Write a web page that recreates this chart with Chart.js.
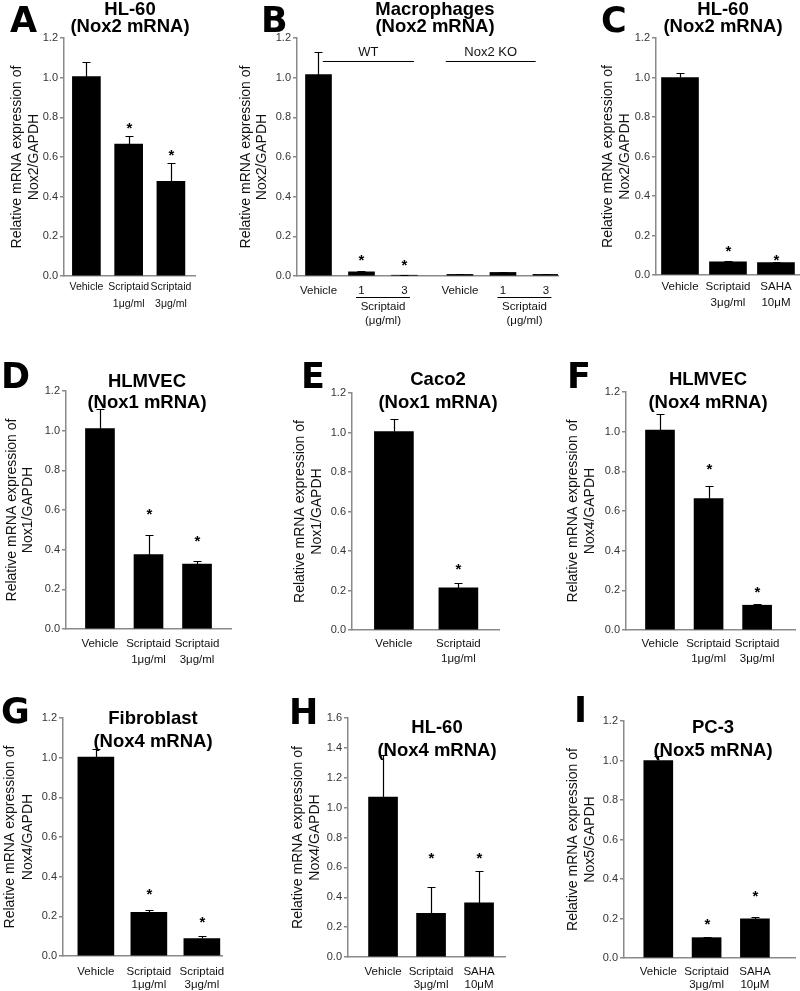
<!DOCTYPE html>
<html>
<head>
<meta charset="utf-8">
<script src="https://cdn.jsdelivr.net/npm/chart.js@4.4.1/dist/chart.umd.min.js"></script>
<style>
    html, body { margin: 0; padding: 0; background: #fff; }
    #fig { position: relative; width: 800px; height: 991px; overflow: hidden; }
    #fig canvas { position: absolute; left: 0; top: 0; }
</style>
</head>
<body>
<div id="fig"></div>
<script>
// region: data
const yLine1 = 'Relative mRNA expression of';

const catsA = ['Vehicle', ['Scriptaid', '1μg/ml'], ['Scriptaid', '3μg/ml']];
const meanA = [1.005, 0.665, 0.477];
const errA = [0.075, 0.04, 0.093];
const sigA = [null, 0.76, 0.625];

const catsB = ['Vehicle', '1', '3', 'Vehicle', '1', '3'];
const meanB = [1.015, 0.021, 0.004, 0.008, 0.018, 0.008];
const errB = [0.115, 0.003, 0.001, 0.001, 0.001, 0.001];
const sigB = [null, 0.096, 0.07, null, null, null];
const groupsB = ['WT', 'Nox2 KO'];
const subB = ['Scriptaid', '(μg/ml)'];

const catsC = ['Vehicle', ['Scriptaid', '3μg/ml'], ['SAHA', '10μM']];
const meanC = [1.0, 0.067, 0.063];
const errC = [0.025, 0.002, 0.003];
const sigC = [null, 0.137, 0.093];

const catsD = ['Vehicle', ['Scriptaid', '1μg/ml'], ['Scriptaid', '3μg/ml']];
const meanD = [1.01, 0.375, 0.327];
const errD = [0.1, 0.097, 0.018];
const sigD = [null, 0.595, 0.459];

const catsE = ['Vehicle', ['Scriptaid', '1μg/ml']];
const meanE = [1.005, 0.213];
const errE = [0.063, 0.024];
const sigE = [null, 0.324];

const catsF = ['Vehicle', ['Scriptaid', '1μg/ml'], ['Scriptaid', '3μg/ml']];
const meanF = [1.008, 0.663, 0.125];
const errF = [0.082, 0.064, 0.006];
const sigF = [null, 0.827, 0.207];

const catsG = ['Vehicle', ['Scriptaid', '1μg/ml'], ['Scriptaid', '3μg/ml']];
const meanG = [1.003, 0.22, 0.088];
const errG = [0.042, 0.013, 0.015];
const sigG = [null, 0.328, 0.187];

const catsH = ['Vehicle', ['Scriptaid', '3μg/ml'], ['SAHA', '10μM']];
const meanH = [1.07, 0.292, 0.362];
const errH = [0.285, 0.178, 0.215];
const sigH = [null, 0.683, 0.683];

const catsI = ['Vehicle', ['Scriptaid', '3μg/ml'], ['SAHA', '10μM']];
const meanI = [1.0, 0.103, 0.198];
const errI = [0.025, 0.005, 0.012];
const sigI = [null, 0.187, 0.329];
// endregion

const family = '"Liberation Sans", Arial, sans-serif';
const axisColor = '#8a8a8a';

const panels = [
    {id: 'A', cats: catsA, mean: meanA, err: errA, sig: sigA, title: ['HL-60', '(Nox2 mRNA)'], ylab: [yLine1, 'Nox2/GAPDH'],
        yMax: 1.2, box: {x0: 64, x1: 195, top: 38, bottom: 276}, min: -0.53, max: 2.57, bw: 28,
        letter: [10, 32], titleX: 130, titleY: [15, 32], ylabX: [47, 30], pad: 2.5, lh: 17, fs: 10.5},
    {id: 'B', cats: catsB, mean: meanB, err: errB, sig: sigB, title: ['Macrophages', '(Nox2 mRNA)'], ylab: [yLine1, 'Nox2/GAPDH'],
        yMax: 1.2, box: {x0: 297, x1: 558, top: 38, bottom: 276}, min: -0.5, max: 5.57, bw: 26, gapAfter: 2, gap: 0.29,
        letter: [261, 32], titleX: 435, titleY: [15, 32], ylabX: [51, 35], pad: 6.5, lh: 17, fs: 11.5},
    {id: 'C', cats: catsC, mean: meanC, err: errC, sig: sigC, title: ['HL-60', '(Nox2 mRNA)'], ylab: [yLine1, 'Nox2/GAPDH'],
        yMax: 1.2, box: {x0: 656, x1: 799, top: 38, bottom: 275}, min: -0.5, max: 2.48, bw: 37,
        letter: [601, 32], titleX: 723, titleY: [15, 32], ylabX: [48, 31], pad: 4, lh: 16, fs: 11.5},
    {id: 'D', cats: catsD, mean: meanD, err: errD, sig: sigD, title: ['HLMVEC', '(Nox1 mRNA)'], ylab: [yLine1, 'Nox1/GAPDH'],
        yMax: 1.2, box: {x0: 66, x1: 231, top: 391, bottom: 629}, min: -0.7, max: 2.7, bw: 29,
        letter: [1, 388], titleX: 147, titleY: [387, 408], ylabX: [54, 38], pad: 7, lh: 16, fs: 11.5},
    {id: 'E', cats: catsE, mean: meanE, err: errE, sig: sigE, title: ['Caco2', '(Nox1 mRNA)'], ylab: [yLine1, 'Nox1/GAPDH'],
        yMax: 1.2, box: {x0: 352, x1: 499, top: 393, bottom: 630}, min: -0.65, max: 1.63, bw: 39,
        letter: [301, 388], titleX: 438, titleY: [385, 408], ylabX: [52, 35], pad: 6.5, lh: 15, fs: 11.5},
    {id: 'F', cats: catsF, mean: meanF, err: errF, sig: sigF, title: ['HLMVEC', '(Nox4 mRNA)'], ylab: [yLine1, 'Nox4/GAPDH'],
        yMax: 1.2, box: {x0: 626, x1: 795, top: 392, bottom: 630}, min: -0.7, max: 2.78, bw: 29,
        letter: [567, 388], titleX: 708, titleY: [385, 408], ylabX: [53, 36], pad: 6.5, lh: 15, fs: 11.5},
    {id: 'G', cats: catsG, mean: meanG, err: errG, sig: sigG, title: ['Fibroblast', '(Nox4 mRNA)'], ylab: [yLine1, 'Nox4/GAPDH'],
        yMax: 1.2, box: {x0: 63, x1: 222, top: 718, bottom: 956}, min: -0.62, max: 2.38, bw: 36,
        letter: [1, 723], titleX: 153, titleY: [724, 747], ylabX: [53, 35], pad: 9, lh: 13.5, fs: 11.5},
    {id: 'H', cats: catsH, mean: meanH, err: errH, sig: sigH, title: ['HL-60', '(Nox4 mRNA)'], ylab: [yLine1, 'Nox4/GAPDH'],
        yMax: 1.6, box: {x0: 348, x1: 505, top: 718, bottom: 957}, min: -0.73, max: 2.54, bw: 29,
        letter: [289, 724], titleX: 437, titleY: [733, 756], ylabX: [50, 33], pad: 8, lh: 13.5, fs: 11.5},
    {id: 'I', cats: catsI, mean: meanI, err: errI, sig: sigI, title: ['PC-3', '(Nox5 mRNA)'], ylab: [yLine1, 'Nox5/GAPDH'],
        yMax: 1.2, box: {x0: 624, x1: 795, top: 721, bottom: 958}, min: -0.71, max: 2.83, bw: 29,
        letter: [574, 722], titleX: 713, titleY: [733, 756], ylabX: [51, 34], pad: 7, lh: 13.5, fs: 11.5}
];

function panelPlugin(p) {
    return {
        id: 'panel' + p.id,
        afterDatasetsDraw(chart) {
            const ctx = chart.ctx;
            const xs = chart.scales.x;
            const ys = chart.scales.y;
            ctx.save();
            ctx.strokeStyle = '#000';
            ctx.fillStyle = '#000';
            ctx.lineWidth = 1.2;
            ctx.font = 'bold 15px ' + family;
            ctx.textAlign = 'center';
            ctx.textBaseline = 'alphabetic';
            p.mean.forEach(function (m, i) {
                const px = Math.round(xs.getPixelForValue(p.pos[i])) + 0.5;
                const yb = ys.getPixelForValue(m);
                const yt = Math.round(ys.getPixelForValue(m + p.err[i])) + 0.5;
                ctx.beginPath();
                ctx.moveTo(px, yb);
                ctx.lineTo(px, yt);
                ctx.moveTo(px - 4, yt);
                ctx.lineTo(px + 4, yt);
                ctx.stroke();
                if (p.sig[i] !== null) {
                    ctx.fillText('*', px, ys.getPixelForValue(p.sig[i]) + 8);
                }
            });
            ctx.restore();
        },
        afterDraw(chart) {
            const ctx = chart.ctx;
            const area = chart.chartArea;
            const xs = chart.scales.x;
            const ys = chart.scales.y;
            ctx.save();
            ctx.fillStyle = '#000';

            // panel letter
            ctx.font = 'bold 35px "DejaVu Sans", sans-serif';
            ctx.textAlign = 'left';
            ctx.textBaseline = 'alphabetic';
            ctx.fillText(p.id, p.letter[0], p.letter[1]);

            // title
            ctx.font = 'bold 18.5px ' + family;
            ctx.textAlign = 'center';
            p.title.forEach(function (t, i) {
                ctx.fillText(t, p.titleX, p.titleY[i]);
            });

            // y axis label
            const midY = (area.top + area.bottom) / 2;
            ctx.font = '14px ' + family;
            ctx.fillStyle = '#111';
            ctx.textBaseline = 'middle';
            p.ylab.forEach(function (t, i) {
                ctx.save();
                ctx.translate(area.left - p.ylabX[i], midY);
                ctx.rotate(-Math.PI / 2);
                ctx.fillText(t, 0, 0);
                ctx.restore();
            });

            // macrophage groups
            if (p.id === 'B') {
                ctx.strokeStyle = '#000';
                ctx.lineWidth = 1;
                const brackets = [[0.1, 2.22], [2.96, 5.05]];
                const yl = Math.round(ys.getPixelForValue(1.084)) + 0.5;
                ctx.font = '13px ' + family;
                brackets.forEach(function (br, g) {
                    const a = xs.getPixelForValue(br[0]);
                    const b = xs.getPixelForValue(br[1]);
                    ctx.beginPath();
                    ctx.moveTo(a, yl);
                    ctx.lineTo(b, yl);
                    ctx.stroke();
                    ctx.fillText(groupsB[g], (a + b) / 2, yl - 9);
                });
                ctx.font = '11.5px ' + family;
                [[1, 2], [4, 5]].forEach(function (pair) {
                    const mid = (xs.getPixelForValue(p.pos[pair[0]]) + xs.getPixelForValue(p.pos[pair[1]])) / 2;
                    const yu = Math.round(area.bottom + 21) + 0.5;
                    ctx.beginPath();
                    ctx.moveTo(mid - 27, yu);
                    ctx.lineTo(mid + 27, yu);
                    ctx.stroke();
                    ctx.fillText(subB[0], mid, area.bottom + 31);
                    ctx.fillText(subB[1], mid, area.bottom + 45);
                });
            }
            ctx.restore();
        }
    };
}

function makeChart(p) {
    const canvas = document.createElement('canvas');
    canvas.width = 800;
    canvas.height = 991;
    document.getElementById('fig').appendChild(canvas);

    p.pos = p.cats.map(function (c, i) {
        return (p.gapAfter !== undefined && i > p.gapAfter) ? i + p.gap : i;
    });
    const b = p.box;
    // the x scale box must hold its labels, they are clipped to it
    const xH = Math.min(40, 991 - b.bottom);

    new Chart(canvas, {
        type: 'bar',
        data: {
            datasets: [{
                data: p.mean.map(function (v, i) { return {x: p.pos[i], y: v}; }),
                backgroundColor: '#000',
                borderWidth: 0,
                barThickness: p.bw
            }]
        },
        options: {
            responsive: false,
            animation: false,
            events: [],
            layout: {padding: {left: b.x0 - 30, top: b.top, right: 800 - b.x1, bottom: 991 - b.bottom - xH}},
            plugins: {legend: {display: false}, tooltip: {enabled: false}},
            scales: {
                x: {
                    type: 'linear',
                    min: p.min,
                    max: p.max,
                    offset: false,
                    afterFit: function (s) { s.height = xH; },
                    afterBuildTicks: function (s) {
                        s.ticks = p.pos.map(function (v) { return {value: v}; });
                    },
                    grid: {display: false, drawTicks: false},
                    border: {display: true, color: axisColor, width: 1.5},
                    ticks: {
                        autoSkip: false,
                        maxRotation: 0,
                        padding: p.pad,
                        color: '#111',
                        font: {family: family, size: p.fs, lineHeight: p.lh / p.fs},
                        callback: function (v, i) { return p.cats[i]; }
                    }
                },
                y: {
                    min: 0,
                    max: p.yMax,
                    afterFit: function (s) { s.width = 30; },
                    grid: {display: true, drawOnChartArea: false, drawTicks: true, tickLength: 4, color: axisColor, lineWidth: 1.5},
                    border: {display: true, color: axisColor, width: 1.5},
                    ticks: {
                        stepSize: 0.2,
                        padding: 2,
                        color: '#333',
                        font: {family: family, size: 11},
                        callback: function (v) { return v.toFixed(1); }
                    }
                }
            }
        },
        plugins: [panelPlugin(p)]
    });
}

panels.forEach(makeChart);
</script>
</body>
</html>
